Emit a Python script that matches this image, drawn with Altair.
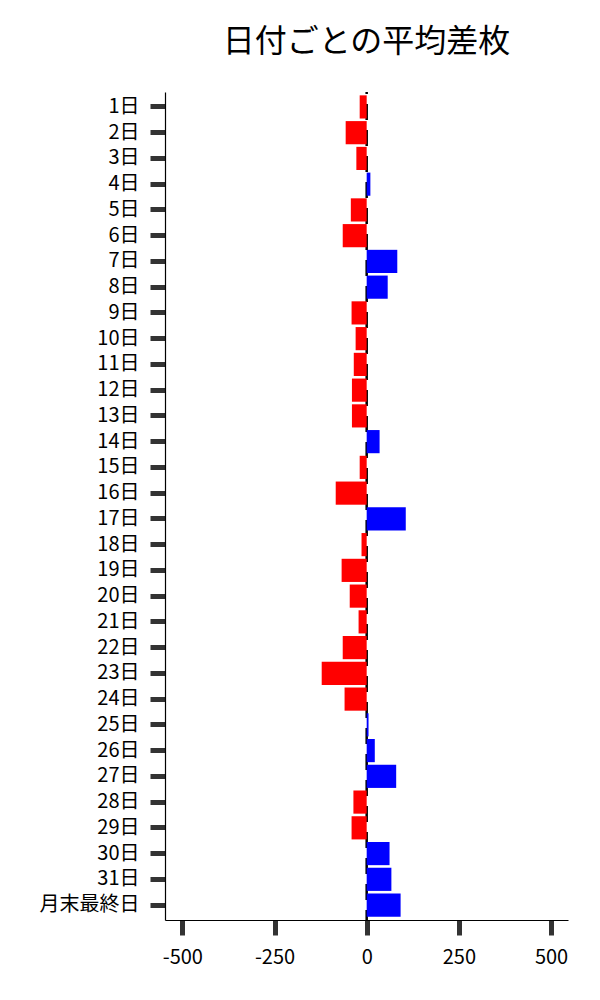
import altair as alt
import pandas as pd

days = [f"{i}日" for i in range(1, 32)] + ["月末最終日"]
values = [-19, -57, -28, 10, -43, -65, 83, 57, -41, -30, -35, -40, -40, 35,
          -19, -84, 106, -14, -68, -46, -22, -65, -122, -60, 5, 22, 80,
          -36, -41, 62, 67, 92]
x_ticks = [-500, -250, 0, 250, 500]

df = pd.DataFrame({"day": days, "value": values})
df["sign"] = ["pos" if v >= 0 else "neg" for v in values]

FONT = "Noto Sans CJK JP"
x_scale = alt.Scale(domain=[-547, 546], nice=False, zero=False)
y_enc = alt.Y("day:N", sort=days, title=None,
              scale=alt.Scale(paddingInner=0.1, paddingOuter=0.13),
              axis=alt.Axis(labelFontSize=20, labelFont=FONT,
                            labelColor="#000", tickSize=15, tickWidth=5,
                            tickColor="#333", labelPadding=11, minExtent=152,
                            domainColor="#000", domainWidth=1.2))

rule = alt.Chart(pd.DataFrame({"z": [0]})).mark_rule(
    color="black", strokeWidth=2.5, strokeDash=[16, 10], strokeDashOffset=-12
).encode(x=alt.X("z:Q", scale=x_scale))

bars = alt.Chart(df).mark_bar().encode(
    x=alt.X("value:Q", scale=x_scale, title=None,
            axis=alt.Axis(values=x_ticks, grid=False,
                          labelExpr="datum.value < 0 ? '-' + abs(datum.value) : '' + datum.value",
                          labelFontSize=20, labelFont=FONT,
                          labelColor="#000", tickSize=15, tickWidth=5,
                          tickColor="#333", labelPadding=12,
                          domainColor="#000", domainWidth=1.2)),
    y=y_enc,
    color=alt.Color("sign:N", scale=alt.Scale(domain=["neg", "pos"], range=["#ff0000", "#0000ff"]),
                    legend=None),
)

chart = alt.layer(rule, bars).properties(
    width=403, height=828,
    padding={"top": 17, "left": 5, "right": 5, "bottom": 5},
    title=alt.Title("日付ごとの平均差枚", fontSize=32, font=FONT,
                    fontWeight="normal", color="#000", offset=42, dy=10),
).configure_view(stroke=None).configure_axis(grid=False)

chart.save("out.html", embed_options={"renderer": "svg", "actions": False})
